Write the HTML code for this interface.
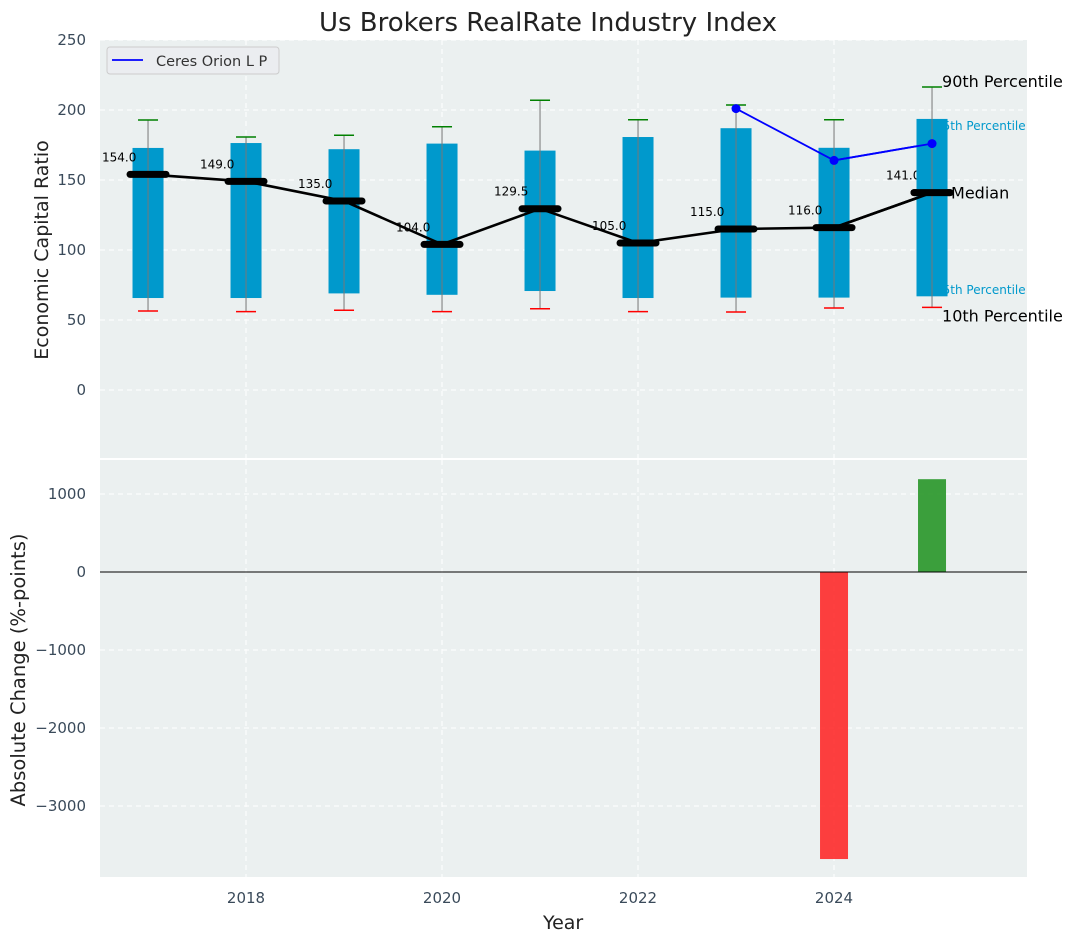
<!DOCTYPE html>
<html><head><meta charset="utf-8"><style>
body{margin:0;background:#fff;}
svg{display:block;font-family:"DejaVu Sans","Liberation Sans",sans-serif;}
</style></head><body>
<svg id="chart" width="1077" height="942" viewBox="0 0 1077 942"></svg>
<script>
const years=[2017,2018,2019,2020,2021,2022,2023,2024,2025];
const q1=[65.7,65.7,69,68,70.7,65.7,66,66,67];
const q3=[172.9,176.4,172,176,171,180.7,187,173,193.6];
const p10=[56.4,56,57,56,58,56,55.7,58.6,59];
const p90=[192.9,180.7,182,188,207,193,203.6,193,216.4];
const medians=[154,149,135,104,129.5,105,115,116,141];
const compYears=[2023,2024,2025];
const compVals=[201,164,176];
const changeYears=[2024,2025];
const changeVals=[-3680,1190];
const topTicks=[0,50,100,150,200,250];
const botTicks=[-3000,-2000,-1000,0,1000];
const xTicks=[2018,2020,2022,2024];

const NS='http://www.w3.org/2000/svg';
const svg=document.getElementById('chart');
function el(tag,attrs,parent){const e=document.createElementNS(NS,tag);for(const k in attrs)e.setAttribute(k,attrs[k]);(parent||svg).appendChild(e);return e;}
const L=100,R=1027;
const X=v=>L+(v-2016.51)*98;
const YT=v=>390-v*1.4;
const YB=v=>572-v*0.078;
const TT=40,TB=458,BT=460,BB=877;

let t=el('text',{x:548,y:31,'text-anchor':'middle','font-size':26,fill:'#222'});t.textContent='Us Brokers RealRate Industry Index';


let p=el('rect',{x:L,y:TT,width:R-L,height:TB-TT,fill:'#ebf0f0'});

p=el('rect',{x:L,y:BT,width:R-L,height:BB-BT,fill:'#ebf0f0'});


xTicks.forEach(v=>{
  let g=el('line',{x1:X(v),x2:X(v),y1:TT,y2:TB,stroke:'#fff','stroke-dasharray':'5,4'});
  
  g=el('line',{x1:X(v),x2:X(v),y1:BT,y2:BB,stroke:'#fff','stroke-dasharray':'5,4'});
  
  let tx=el('text',{x:X(v),y:903,'text-anchor':'middle','font-size':15,fill:'#3a4a5a'});tx.textContent=v;
  
});
topTicks.forEach(v=>{
  let g=el('line',{x1:L,x2:R,y1:YT(v),y2:YT(v),stroke:'#fff','stroke-dasharray':'5,4'});
  
  let tx=el('text',{x:86,y:YT(v)+5,'text-anchor':'end','font-size':15,fill:'#3a4a5a'});tx.textContent=v;
  
});
botTicks.forEach(v=>{
  let g=el('line',{x1:L,x2:R,y1:YB(v),y2:YB(v),stroke:'#fff','stroke-dasharray':'5,4'});
  
  let tx=el('text',{x:86,y:YB(v)+5,'text-anchor':'end','font-size':15,fill:'#3a4a5a'});tx.textContent=(v<0?'\u2212'+(-v):v);
  
});

years.forEach((y,i)=>{
  const cx=X(y);
  let b=el('rect',{x:cx-15.5,y:YT(q3[i]),width:31,height:YT(q1[i])-YT(q3[i]),fill:'#0099cc'});
  
  let w=el('line',{x1:cx,x2:cx,y1:YT(p90[i]),y2:YT(p10[i]),stroke:'#777','stroke-width':1});
  
  let c=el('line',{x1:cx-10,x2:cx+10,y1:YT(p90[i]),y2:YT(p90[i]),stroke:'green','stroke-width':1.5});
  
  c=el('line',{x1:cx-10,x2:cx+10,y1:YT(p10[i]),y2:YT(p10[i]),stroke:'red','stroke-width':1.5});
  
});
let ml=el('polyline',{points:years.map((y,i)=>X(y)+','+YT(medians[i])).join(' '),fill:'none',stroke:'#000','stroke-width':2.6});

years.forEach((y,i)=>{
  const cx=X(y),cy=YT(medians[i]);
  let m=el('line',{x1:cx-18,x2:cx+18,y1:cy,y2:cy,stroke:'#000','stroke-width':7,'stroke-linecap':'round'});
  
  let tx=el('text',{x:cx-46,y:cy-13,'font-size':12,fill:'#000'});tx.textContent=medians[i].toFixed(1);
  
});
let cl=el('polyline',{points:compYears.map((y,i)=>X(y)+','+YT(compVals[i])).join(' '),fill:'none',stroke:'blue','stroke-width':1.8});

compYears.forEach((y,i)=>{
  let c=el('circle',{cx:X(y),cy:YT(compVals[i]),r:4.5,fill:'blue'});
  
});
const last=years.length-1, lx=X(years[last]);
function ann(txt,x,y,size,color,name){let a=el('text',{x:x,y:y,'font-size':size,fill:color});a.textContent=txt;}
ann('90th Percentile',lx+10,YT(p90[last])+0,16,'#000','p90-annotation');
ann('75th Percentile',lx+3,YT(q3[last])+11,12,'#0099cc','p75-annotation');
ann('Median',lx+19,YT(medians[last])+6,16,'#000','median-annotation');
ann('25th Percentile',lx+3,YT(q1[last])-2,12,'#0099cc','p25-annotation');
ann('10th Percentile',lx+10,YT(p10[last])+14,16,'#000','p10-annotation');
{let b=el('rect',{x:lx-15.5,y:YT(q3[last]),width:31,height:YT(q1[last])-YT(q3[last]),fill:'#0099cc'});

let w=el('line',{x1:lx,x2:lx,y1:YT(q3[last]),y2:YT(q1[last]),stroke:'#777'});
let ms=el('line',{x1:X(years[last-1]),y1:YT(medians[last-1]),x2:lx,y2:YT(medians[last]),stroke:'#000','stroke-width':2.6});
let m=el('line',{x1:lx-18,x2:lx+18,y1:YT(medians[last]),y2:YT(medians[last]),stroke:'#000','stroke-width':7,'stroke-linecap':'round'});
let pl=el('line',{x1:X(compYears[1]),y1:YT(compVals[1]),x2:lx,y2:YT(compVals[2]),stroke:'blue','stroke-width':1.8});
let c=el('circle',{cx:lx,cy:YT(compVals[compVals.length-1]),r:4.5,fill:'blue'});}

let lg=el('g',{});
el('rect',{x:107,y:47,width:172,height:27,rx:3,fill:'#ebedf0',stroke:'#ccc'},lg);
el('line',{x1:112,x2:143,y1:60,y2:60,stroke:'blue','stroke-width':1.8},lg);
let lt=el('text',{x:156,y:66,'font-size':14.5,fill:'#333'},lg);lt.textContent='Ceres Orion L P';


changeYears.forEach((y,i)=>{
  const v=changeVals[i];
  let b=el('rect',{x:X(y)-14,y:Math.min(YB(v),YB(0)),width:28,height:Math.abs(YB(v)-YB(0)),fill:v<0?'rgba(255,30,30,0.85)':'rgba(40,150,40,0.9)'});
  
});
let zl=el('line',{x1:L,x2:R,y1:YB(0),y2:YB(0),stroke:'#000','stroke-width':1});


ann('Year',543,929,19,'#222','x-axis-title');
let yt=el('text',{x:48,y:250,'font-size':19,fill:'#222','text-anchor':'middle',transform:'rotate(-90 48 250)'});yt.textContent='Economic Capital Ratio';

yt=el('text',{x:25,y:670,'font-size':19.5,fill:'#222','text-anchor':'middle',transform:'rotate(-90 25 670)'});yt.textContent='Absolute Change (%-points)';

</script>
</body></html>
